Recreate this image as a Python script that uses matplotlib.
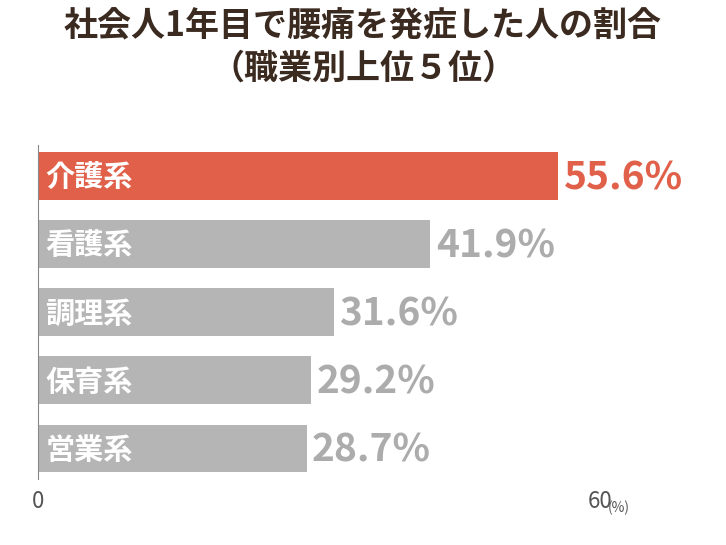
import matplotlib.pyplot as plt
import matplotlib as mpl

mpl.rcParams['font.family'] = 'Noto Sans CJK JP'

categories = ['介護系', '看護系', '調理系', '保育系', '営業系']
values = [55.6, 41.9, 31.6, 29.2, 28.7]
title = '社会人1年目で腰痛を発症した人の割合\n（職業別上位５位）'

red = '#e0604a'
gray = '#b5b5b5'
colors = [red] + [gray] * 4
txt_colors = [red] + ['#acacac'] * 4

fig = plt.figure(figsize=(7.26, 5.45), dpi=100)
ax = fig.add_axes([0.052, 0.121, 0.774, 0.613])

ys = range(len(categories))
ax.barh(ys, values, height=0.70, color=colors)
for y, cat, v, c in zip(ys, categories, values, txt_colors):
    ax.text(0.8, y + 0.02, cat, color='white', fontsize=21, fontweight='bold', va='center', ha='left')
    ax.text(v + 0.6, y + 0.03, f'{v}%', color=c, fontsize=28, fontweight='bold', va='center', ha='left')

ax.set_xlim(0, 60)
ax.set_ylim(4.45, -0.45)
for s in ['top', 'right', 'bottom']:
    ax.spines[s].set_visible(False)
ax.spines['left'].set_color('#888888')
ax.set_yticks([])
ax.set_xticks([0, 60])
ax.set_xticklabels(['0', '60'], fontsize=16, color='#555555')
ax.tick_params(axis='x', length=0, pad=8)
ax.text(60.9, 4.87, '(%)', transform=ax.transData, fontsize=10, color='#555555', va='center', ha='left')
fig.text(0.5, 0.985, title, ha='center', va='top', fontsize=24.5, fontweight='bold',
         color='#3b2a20', linespacing=1.25)

fig.savefig('out.png', dpi=100)
